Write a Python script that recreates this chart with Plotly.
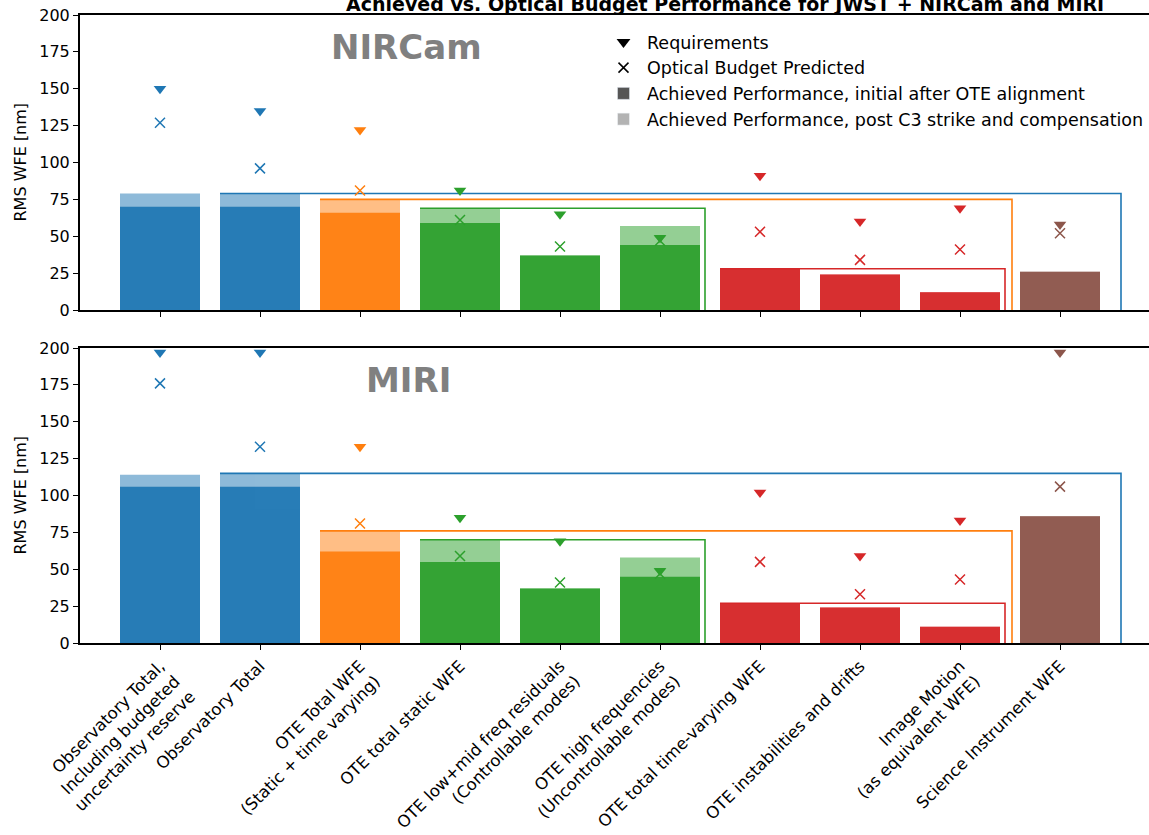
import plotly.graph_objects as go

# ---- data -------------------------------------------------------------
categories = [
    "Observatory Total,<br>Including budgeted<br>uncertainty reserve",
    "Observatory Total",
    "OTE Total WFE<br>(Static + time varying)",
    "OTE total static WFE",
    "OTE low+mid freq residuals<br>(Controllable modes)",
    "OTE high frequencies<br>(Uncontrollable modes)",
    "OTE total time-varying WFE",
    "OTE instabilities and drifts",
    "Image Motion<br>(as equivalent WFE)",
    "Science Instrument WFE",
]

nircam_requirement = [150, 135, 122, 81, 65, 49, 91, 60, 69, 58]
nircam_predicted = [127, 96, 81, 61, 43, 47, 53, 34, 41, 52]
nircam_initial = [70, 70, 66, 59, 37, 44, 28, 24, 12, 26]
nircam_post_c3 = [79, 79, 75, 69, 37, 57, 28, 24, 12, 26]

miri_requirement = [197, 197, 133, 85, 69, 49, 102, 59, 83, 197]
miri_predicted = [176, 133, 81, 59, 41, 47, 55, 33, 43, 106]
miri_initial = [106, 106, 62, 55, 37, 45, 27, 24, 11, 86]
miri_post_c3 = [114, 115, 76, 70, 37, 58, 27, 24, 11, 86]

y_ticks = [0, 25, 50, 75, 100, 125, 150, 175, 200]

# ---- styling ----------------------------------------------------------
BLUE, ORANGE, GREEN, RED, BROWN = "#1f77b4", "#ff7f0e", "#2ca02c", "#d62728", "#8c564b"
cat_colors = [BLUE, BLUE, ORANGE, GREEN, GREEN, GREEN, RED, RED, RED, BROWN]

# roll-up brackets: (parent category index, right edge in category units, colour)
brackets = [(1, 9.61, BLUE), (2, 8.52, ORANGE), (3, 5.45, GREEN), (6, 8.45, RED)]

FONT = "DejaVu Sans"
W, H = 1149, 835
L_PX = 80
BAR_W = 0.8
xs = list(range(len(categories)))


def py(px):
    """pixel row -> paper y"""
    return 1 - px / H


def px_x(px):
    """pixel column -> paper x"""
    return (px - L_PX) / (W - L_PX)


fig = go.Figure()

panels = [
    ("", nircam_requirement, nircam_predicted, nircam_initial, nircam_post_c3),
    ("2", miri_requirement, miri_predicted, miri_initial, miri_post_c3),
]

for sfx, req, pred, init, post in panels:
    xa = "x" + sfx
    ya = "y" + sfx
    fig.add_trace(go.Bar(x=xs, y=post, width=BAR_W, xaxis=xa, yaxis=ya,
                         marker=dict(color=cat_colors, line=dict(width=0)),
                         opacity=0.5, showlegend=False, hoverinfo="skip"))
    fig.add_trace(go.Bar(x=xs, y=init, width=BAR_W, xaxis=xa, yaxis=ya,
                         marker=dict(color=cat_colors, line=dict(width=0)),
                         opacity=0.92, showlegend=False, hoverinfo="skip"))
    for idx, right, col in brackets:
        top = max(init[idx], post[idx])
        left = idx - BAR_W / 2
        fig.add_trace(go.Scatter(x=[left, right, right], y=[top, top, 0],
                                 xaxis=xa, yaxis=ya, mode="lines",
                                 line=dict(color=col, width=1.6),
                                 showlegend=False, hoverinfo="skip"))
    fig.add_trace(go.Scatter(x=xs, y=pred, xaxis=xa, yaxis=ya, mode="markers",
                             marker=dict(symbol="x-thin", size=10, color=cat_colors,
                                         line=dict(width=1.5, color=cat_colors)),
                             showlegend=False, hoverinfo="skip"))
    fig.add_trace(go.Scatter(x=xs, y=req, xaxis=xa, yaxis=ya, mode="markers",
                             marker=dict(symbol="triangle-down", size=11, color=cat_colors,
                                         line=dict(width=0)),
                             showlegend=False, hoverinfo="skip"))

# legend entries
fig.add_trace(go.Scatter(x=[None], y=[None], mode="markers", name="Requirements",
                         marker=dict(symbol="triangle-down", size=12, color="black"),
                         legendrank=1))
fig.add_trace(go.Scatter(x=[None], y=[None], mode="markers", name="Optical Budget Predicted",
                         marker=dict(symbol="x-thin", size=10, color="black",
                                     line=dict(width=1.5, color="black")),
                         legendrank=2))
fig.add_trace(go.Bar(x=[None], y=[None], name="Achieved Performance, initial after OTE alignment",
                     marker=dict(color="#444444"), opacity=0.9, legendrank=3))
fig.add_trace(go.Bar(x=[None], y=[None], name="Achieved Performance, post C3 strike and compensation",
                     marker=dict(color="#444444"), opacity=0.4, legendrank=4))

x_range = [-0.8, -0.8 + (W - L_PX) / 100.0]

common_x = dict(range=x_range, tickmode="array", tickvals=xs, showline=True,
                mirror=True, linecolor="black", linewidth=2, ticks="outside",
                ticklen=5, tickwidth=1.3, tickcolor="black", showgrid=False,
                zeroline=False, automargin=False,
                tickfont=dict(family=FONT, size=16.5, color="black"))
common_y = dict(range=[0, 200], tickmode="array", tickvals=y_ticks, showline=True,
                mirror=False, linecolor="black", linewidth=2, ticks="outside",
                ticklen=5, tickwidth=1.3, tickcolor="black", showgrid=False,
                zeroline=False, automargin=False,
                tickfont=dict(family=FONT, size=16, color="black"))

top_dom = [py(310), py(15)]
bot_dom = [py(643), py(348)]

fig.update_layout(
    width=W, height=H,
    margin=dict(l=L_PX, r=0, t=0, b=0),
    paper_bgcolor="white", plot_bgcolor="white",
    barmode="overlay",
    font=dict(family=FONT, size=16, color="black"),
    xaxis=dict(**common_x, domain=[0, 1], anchor="y", showticklabels=False),
    yaxis=dict(**common_y, domain=top_dom, anchor="x"),
    xaxis2=dict(**common_x, domain=[0, 1], anchor="y2", showticklabels=True,
                ticktext=categories, tickangle=-45),
    yaxis2=dict(**common_y, domain=bot_dom, anchor="x2"),
    legend=dict(x=px_x(600), y=py(24), xanchor="left", yanchor="top",
                bgcolor="rgba(0,0,0,0)", font=dict(family=FONT, size=17.5),
                itemwidth=37, tracegroupgap=0),
    showlegend=True,
)

annotations = [
    dict(text="<b>Achieved vs. Optical Budget Performance for JWST + NIRCam and MIRI</b>",
         x=px_x(725), y=py(4), xref="paper", yref="paper",
         xanchor="center", yanchor="middle", showarrow=False,
         font=dict(family=FONT, size=19, color="black")),
    dict(text="<b>NIRCam</b>", x=px_x(406), y=py(47),
         xref="paper", yref="paper", xanchor="center", yanchor="middle",
         showarrow=False, font=dict(family=FONT, size=34, color="#808080")),
    dict(text="<b>MIRI</b>", x=px_x(408), y=py(380),
         xref="paper", yref="paper", xanchor="center", yanchor="middle",
         showarrow=False, font=dict(family=FONT, size=34, color="#808080")),
    dict(text="RMS WFE [nm]", x=px_x(20), y=sum(top_dom) / 2,
         xref="paper", yref="paper", xanchor="center", yanchor="middle",
         textangle=-90, showarrow=False, font=dict(family=FONT, size=16, color="black")),
    dict(text="RMS WFE [nm]", x=px_x(20), y=sum(bot_dom) / 2,
         xref="paper", yref="paper", xanchor="center", yanchor="middle",
         textangle=-90, showarrow=False, font=dict(family=FONT, size=16, color="black")),
]
fig.update_layout(annotations=annotations)

fig.write_html("out.html")
